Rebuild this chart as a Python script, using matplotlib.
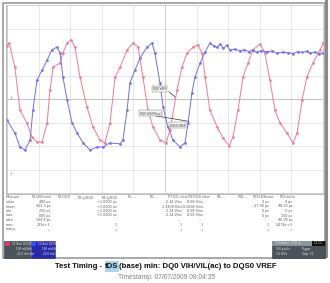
import matplotlib
matplotlib.use("Agg")
import matplotlib.pyplot as plt
from matplotlib.patches import Rectangle
from matplotlib import font_manager

W, H = 330, 283
DPI = 100

# ---- waveform data (x in divisions from centre, y in divisions from centre) ----
red_x = [-5.0, -4.93, -4.75, -4.59, -4.37, -4.21, -4.05, -3.89, -3.73, -3.64, -3.54, -3.32, -3.23,
         -3.10, -2.97, -2.85, -2.69, -2.47, -2.28, -2.06, -1.90, -1.74, -1.58, -1.42, -1.20, -1.01,
         -0.85, -0.70, -0.54, -0.38, -0.16, 0.03, 0.16, 0.38, 0.54, 0.70, 0.89, 1.04, 1.17, 1.27,
         1.42, 1.65, 1.84, 2.03, 2.15, 2.31, 2.47, 2.63, 2.78, 3.01, 3.16, 3.32, 3.48, 3.64, 3.86,
         4.05, 4.18, 4.34, 4.49, 4.68, 4.91, 5.0]
red_y = [2.26, 2.38, 1.36, -0.47, -1.02, -1.62, -1.83, -1.83, -1.02, 0.38, 1.36, 1.53, 1.96,
         2.38, 2.51, 2.21, 0.94, -0.34, -1.19, -1.74, -1.87, -1.02, 0.94, 1.36, 2.09, 2.38,
         2.21, 0.94, -0.47, -1.19, -1.74, -1.87, -1.32, 0.38, 1.36, 1.96, 2.21, 2.30, 1.96, 0.94,
         -0.47, -1.19, -1.66, -2.00, -1.62, -0.47, 0.94, 1.53, 2.09, 2.34, 1.96, 0.81, -0.47, -1.02, -1.45,
         -1.87, -1.45, -0.04, 0.94, 1.53, 2.09, 2.38]

blue_x = [-5.0, -4.75, -4.59, -4.43, -4.27, -4.18, -4.05, -3.89, -3.73, -3.58, -3.42, -3.32, -3.23,
          -3.10, -2.94, -2.78, -2.59, -2.37, -2.15, -1.96, -1.74, -1.42, -1.33, -1.20, -1.11, -0.95,
          -0.79, -0.57, -0.41, -0.32, -0.16, -0.06, 0.09, 0.25, 0.47, 0.63, 0.73, 0.85, 0.95, 1.11,
          1.27, 1.42, 1.55, 1.65, 1.75, 1.84, 1.95, 2.06, 2.2, 2.37, 2.5, 2.65, 2.78, 2.9, 3.05, 3.23,
          3.4, 3.55, 3.73, 3.9, 4.05, 4.2, 4.35, 4.48, 4.59, 4.75, 4.88, 5.0]
blue_y = [-0.89, -1.45, -2.04, -2.17, -1.74, -0.47, 0.81, 1.23, 1.66, 2.09, 2.21, 1.96, 0.94,
          -0.04, -1.02, -1.45, -1.87, -2.17, -2.04, -2.04, -1.87, -1.91, -1.74, -0.47, 0.68, 1.23,
          1.74, 2.21, 2.38, 1.96, 0.68, -0.34, -1.19, -1.74, -2.04, -1.87, -1.02, 0.26, 0.94, 1.53,
          2.00, 2.38, 2.25, 2.21, 2.35, 2.15, 2.28, 2.09, 2.12, 2.05, 2.10, 2.02, 2.08, 1.98, 2.06, 2.01,
          2.04, 1.95, 2.00, 1.97, 1.93, 2.02, 1.98, 2.03, 1.95, 2.00, 1.92, 1.96]

# ---- annotations ----
ann_text = ["DQ0 VREF", "DQ0 VIH/VIL(ac)", "DQS0 VREF"]
ann_pos = [(-0.38, 0.43), (-0.79, -0.60), (0.16, -1.11)]
ann_tip = [(0.32, 0.09), (0.75, -0.95), (None, None)]

# ---- measurement table ----
col_heads = ["Measure", "P1:tDS(min)", "P2:DQ0", "P3:@DQ0", "P4:@DQS", "P5:---", "P6:---",
             "P7:DQ slew", "P8:DQS slew", "P9:---", "P10:---", "P11:tDSbase", "P12:delta"]
row_heads = ["value", "mean", "min", "max", "sdev", "num", "status"]
col_P1 = ["480 ps", "563.3 ps", "250 ps", "800 ps", "104.6 ps", "221e+3", "\u2713"]
col_P4 = ["+1.0200 us", "+1.0200 us", "+1.0200 us", "+1.0200 us", "-", "1", "\u2713"]
col_P7 = ["2.34 V/ns", "2.3400 V/ns", "2.34 V/ns", "2.34 V/ns", "---", "1", "\u2713"]
col_P8 = ["8.58 V/ns", "8.5800 V/ns", "8.58 V/ns", "8.58 V/ns", "---", "1", "\u2713"]
col_P11 = ["0 ps", "-17.00 ps", "0 ps", "0 ps", "-", "1", "\u2713"]
col_P12 = ["0 ps", "98.15 ps", "-0 ps", "150 ps", "96.00 ps", "2.476e+3", "\u2713"]

title_parts = ["Test Timing - ", "tDS", "(base) min: DQ0 VIH/VIL(ac) to DQS0 VREF"]
timestamp = "Timestamp: 07/07/2009 09:04:35"

RED = "#f27a94"
BLUE = "#7070e8"

names = {f.name for f in font_manager.fontManager.ttflist}
narrow = "Liberation Sans Narrow" if "Liberation Sans Narrow" in names else "Liberation Sans"

fig = plt.figure(figsize=(W / DPI, H / DPI), dpi=DPI)
fig.patch.set_facecolor("white")

def fx(px):
    return px / W

def fy(py):
    return 1 - py / H

# background / frame axes in pixel coords
bg = fig.add_axes([0, 0, 1, 1])
bg.set_xlim(0, W)
bg.set_ylim(H, 0)
bg.axis("off")
bg.add_patch(Rectangle((3, 3), 322, 255, fill=False, ec="#9a9a9a", lw=1.2))
bg.add_patch(Rectangle((325, 0), 3, 258, fc="#8a8a8a", ec="none"))
bg.add_patch(Rectangle((5.5, 4.5), 318, 189, fill=False, ec="#b0b0b0", lw=0.6))

# scope graticule
ax = fig.add_axes([fx(7), fy(193), (323 - 7) / W, (193 - 5) / H])
ax.set_xlim(-5, 5)
ax.set_ylim(-4, 4)
for v in range(-4, 5):
    ax.axvline(v, color="#e2e2e2", lw=0.6, zorder=0)
for v in range(-3, 4):
    ax.axhline(v, color="#e2e2e2", lw=0.6, zorder=0)
ax.axvline(0, color="#cfcfcf", lw=0.7, zorder=0)
ax.axhline(0, color="#c4c4c4", lw=0.8, zorder=0)
ax.set_xticks([])
ax.set_yticks([])
for s in ax.spines.values():
    s.set_color("#c8c8c8")
    s.set_linewidth(0.6)

ax.plot(red_x, red_y, color=RED, lw=0.7, marker="o", ms=0.9, mec=RED, zorder=3)
ax.plot(blue_x, blue_y, color=BLUE, lw=0.7, marker="o", ms=0.9, mec=BLUE, zorder=3)

for t, (x, y), (tx, ty) in zip(ann_text, ann_pos, ann_tip):
    ax.text(x, y, t, fontsize=2.0, color="#333333", va="center", ha="left", zorder=5,
            bbox=dict(fc="#f4f4f4", ec="#777777", lw=0.3, pad=0.6))
    if tx is not None:
        ax.plot([x + 0.5, tx], [y - 0.12, ty], color="#333333", lw=0.5, zorder=4)

ax.text(-4.93, 0.05, "1", fontsize=3, color="#888888", va="center")
ax.text(-4.93, -3.2, "2", fontsize=3, color="#888888", va="center")

# measurement table
row_y = [202, 206.5, 211, 215.5, 220, 224.5, 229]
head_x = [6, 32, 58, 78, 102, 128, 150, 168, 188, 217, 238, 253, 280]
tc = "#5a5a5a"
fs = 2.4
for hx, h in zip(head_x, col_heads):
    fig.text(fx(hx), fy(197), h, fontsize=fs, color=tc, va="center", ha="left")
for ry, r in zip(row_y, row_heads):
    fig.text(fx(6), fy(ry), r, fontsize=fs, color=tc, va="center", ha="left")
for cx, col in zip([50, 117, 182, 203, 269, 292], [col_P1, col_P4, col_P7, col_P8, col_P11, col_P12]):
    for ry, v in zip(row_y, col):
        fig.text(fx(cx), fy(ry), v, fontsize=fs, color=tc, va="center", ha="right")

# channel descriptor boxes
bg.add_patch(Rectangle((4, 241), 26, 17, fc="#4a525a", ec="#303030", lw=0.4))
bg.add_patch(Rectangle((5, 242), 5, 4, fc="#e8306a", ec="none"))
bg.add_patch(Rectangle((31, 241), 24, 17, fc="#2a2aa8", ec="#202060", lw=0.4))
bg.add_patch(Rectangle((32, 242), 4, 4, fc="#3050ff", ec="none"))
bg.add_patch(Rectangle((272, 241), 53, 17, fc="#4a525a", ec="#303030", lw=0.4))
bg.add_patch(Rectangle((272, 241), 40, 5, fc="#8a949c", ec="none"))
bg.add_patch(Rectangle((312, 241), 13, 5, fc="#111111", ec="none"))
box_txt = [(12, 244, "C1 BwL DC1M"), (16, 249, "100 mV/div"), (16, 254, "-20.0 mV ofst"),
           (38, 244, "C2 BwL DC1M"), (42, 249, "100 mV/div"), (42, 254, "-20.0 mV ofst"),
           (276, 243.5, "Timebase  0.00 us"), (276, 249, "500 ps/div"), (276, 254, "5.0 GS/s"),
           (302, 249, "Trigger"), (302, 254, "Stop  C1"), (314, 243.5, "C1 DC")]
for x, y, t in box_txt:
    bg.text(x, y, t, fontsize=2.0, color="#e8e8e8", va="center", ha="left")

# title with highlighted tDS, fitted to the reference width
fig.canvas.draw()
r = fig.canvas.get_renderer()
fam = [narrow, "Liberation Sans", "DejaVu Sans"]

def measure(parts, size, weight):
    ws = []
    for p in parts:
        t = bg.text(0, 0, p, fontsize=size, fontweight=weight, family=fam)
        ws.append(t.get_window_extent(r).width)
        t.remove()
    return ws

base = 7.0
ws = measure(title_parts, base, "bold")
tsize = base * 222.0 / sum(ws)
ws = [w * 222.0 / sum(ws) for w in ws]
cur = 166 - 111
for i, (p, w) in enumerate(zip(title_parts, ws)):
    if i == 1:
        bg.add_patch(Rectangle((cur - 0.5, 261), w + 1, 11, fc="#a9d4ea", ec="none", zorder=1))
    bg.text(cur, 267, p, zorder=2, ha="left", va="center", color="#111111",
            fontsize=tsize, fontweight="bold", family=fam)
    cur += w

wts = measure([timestamp], 6.0, "normal")[0]
ssize = 6.0 * 98.0 / wts
bg.text(166, 277.5, timestamp, fontsize=ssize, color="#808080", ha="center", va="center",
        family=fam)

fig.savefig("out.png", dpi=DPI)
